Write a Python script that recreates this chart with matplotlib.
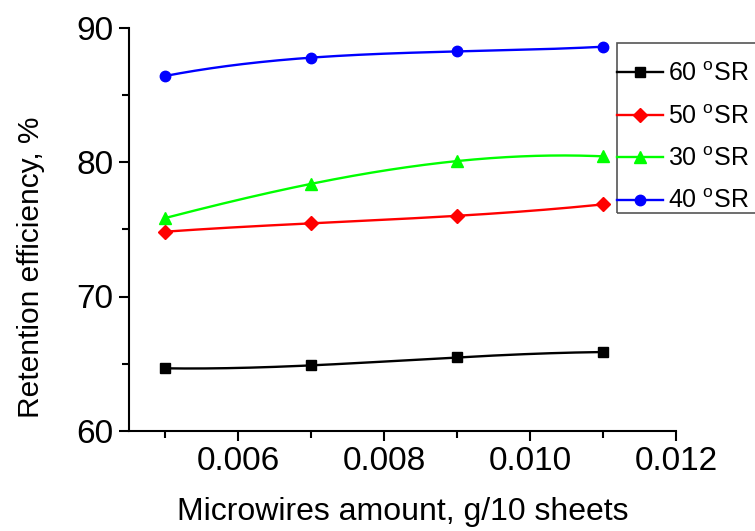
import numpy as np
import matplotlib
matplotlib.use('Agg')
import matplotlib.pyplot as plt
from matplotlib.patches import Rectangle

plt.rcParams['font.family'] = ['Liberation Sans', 'DejaVu Sans']
plt.rcParams['mathtext.default'] = 'regular'

# data
x = np.array([0.005, 0.007, 0.009, 0.011])
y60 = np.array([64.66, 64.88, 65.47, 65.87])
y50 = np.array([74.82, 75.44, 76.00, 76.85])
y30 = np.array([75.84, 78.38, 80.07, 80.42])
y40 = np.array([86.40, 87.76, 88.22, 88.57])

series = [
    ('60 $^{o}$SR', y60, 'black', 's', 6.5),
    ('50 $^{o}$SR', y50, 'red', 'D', 7),
    ('30 $^{o}$SR', y30, '#00ff00', '^', 8),
    ('40 $^{o}$SR', y40, 'blue', 'o', 7.5),
]

W, H = 755, 531
fig = plt.figure(figsize=(W / 100, H / 100), dpi=100)
ax = fig.add_axes([129 / W, 1 - 431 / H, (676 - 129) / W, (431 - 27.5) / H])

# smooth line through the points (cubic), markers at the data
xs = np.linspace(x.min(), x.max(), 300)
for label, y, c, m, ms in series:
    p = np.polyfit(x, y, 3)
    ax.plot(xs, np.polyval(p, xs), color=c, lw=1.7)
    ax.plot(x, y, linestyle='none', marker=m, color=c, ms=ms)
    ax.plot([], [], color=c, lw=1.7, marker=m, ms=ms, label=label)

ax.set_xlim(0.0045, 0.012)
ax.set_ylim(60, 90)
ax.set_xticks([0.006, 0.008, 0.010, 0.012])
ax.set_xticklabels(['0.006', '0.008', '0.010', '0.012'])
ax.set_xticks([0.005, 0.007, 0.009, 0.011], minor=True)
ax.set_yticks([60, 70, 80, 90])
ax.set_yticks([65, 75, 85], minor=True)

for s in ['top', 'right']:
    ax.spines[s].set_visible(False)
for s in ['left', 'bottom']:
    ax.spines[s].set_linewidth(1.5)

ax.tick_params(which='major', direction='out', length=7, width=1.5, labelsize=24, pad=4)
ax.tick_params(which='minor', direction='out', length=5, width=1.5)

ax.set_xlabel('Microwires amount, g/10 sheets', fontsize=23, labelpad=14)
ax.set_ylabel('Retention efficiency, %', fontsize=21.5)
ax.yaxis.set_label_coords((45 - 129) / (676 - 129), (431 - 267) / (431 - 27.5))

# legend box, open on the right like the original
fig.patches.append(Rectangle((617 / W, 1 - 213 / H), 0.3, 170 / H, transform=fig.transFigure,
                             fill=False, ec='#555555', lw=1.2))
leg = fig.legend(loc='upper left', bbox_to_anchor=(617 / W, 1 - 62 / H), fontsize=18,
                 handlelength=1.84, handletextpad=0.2, labelspacing=0.74,
                 borderpad=0, borderaxespad=0, frameon=False, numpoints=1)

fig.savefig('out.png', dpi=100)
